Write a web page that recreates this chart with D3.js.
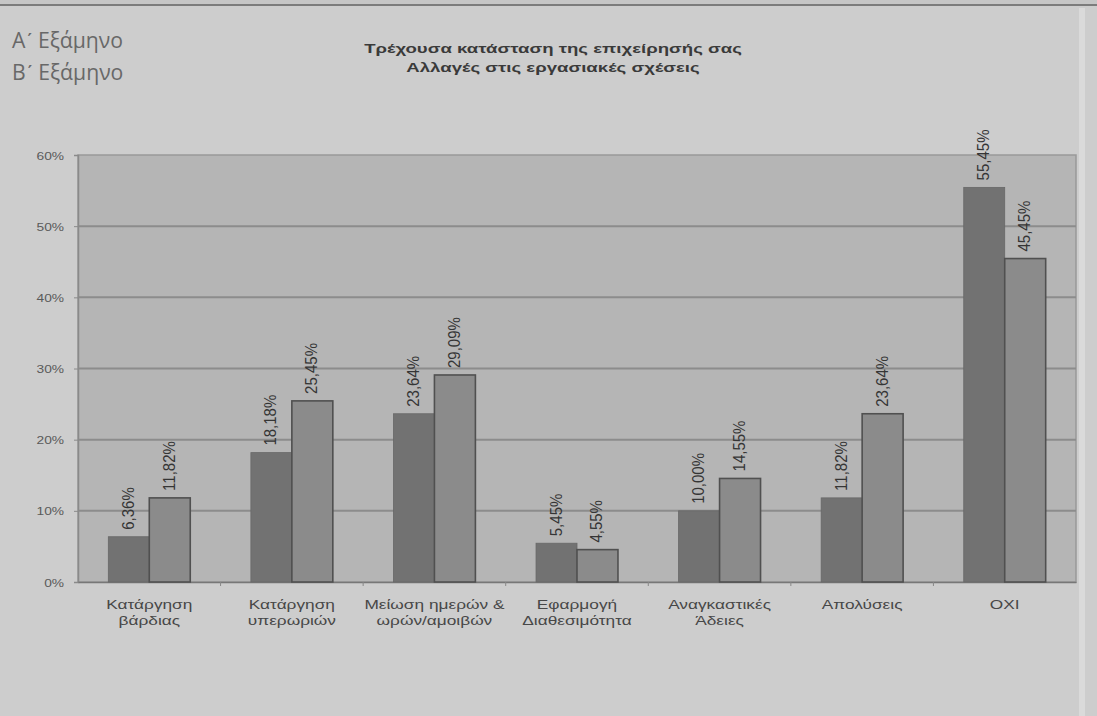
<!DOCTYPE html>
<html>
<head>
<meta charset="utf-8">
<script src="https://cdn.jsdelivr.net/npm/d3@7"></script>
<style>
  html, body { margin: 0; padding: 0; background: #cdcdcd; }
  svg { display: block; }
</style>
</head>
<body>
<svg id="chart" width="1097" height="716"></svg>
<script>
// Categories (two-line labels) and the two semester series, in percent
const categories = [
  ["Κατάργηση", "βάρδιας"],
  ["Κατάργηση", "υπερωριών"],
  ["Μείωση ημερών &", "ωρών/αμοιβών"],
  ["Εφαρμογή", "Διαθεσιμότητα"],
  ["Αναγκαστικές", "Άδειες"],
  ["Απολύσεις"],
  ["ΟΧΙ"]
];
const seriesNames = ["Α\u0374 Εξάμηνο", "Β\u0374 Εξάμηνο"];
const semesterA = [6.36, 18.18, 23.64, 5.45, 10.00, 11.82, 55.45];
const semesterB = [11.82, 25.45, 29.09, 4.55, 14.55, 23.64, 45.45];
const yTicks = [0, 10, 20, 30, 40, 50, 60];
const titleLines = ["Τρέχουσα κατάσταση της επιχείρησής σας", "Αλλαγές στις εργασιακές σχέσεις"];

const svg = d3.select("#chart");
const W = 1097, H = 716;
const plot = { left: 78, right: 1076, top: 155, bottom: 582 };
const SX = 1.25; // horizontal stretch applied to the chart lettering

const gr = d3.formatLocale({ decimal: ",", thousands: ".", grouping: [3], currency: ["", "€"] });
const fmt2 = gr.format(".2f");

const catIdx = d3.range(categories.length);
const x0 = d3.scaleBand().domain(catIdx).range([plot.left, plot.right]).padding(0);
const x1 = d3.scaleBand().domain([0, 1]).range([0, x0.bandwidth()]).paddingInner(0).paddingOuter(0.74);
const y = d3.scaleLinear().domain([0, 60]).range([plot.bottom, plot.top]);

// page frame
svg.append("rect").attr("width", W).attr("height", H).attr("fill", "#cdcdcd");
svg.append("rect").attr("x", 0).attr("y", 0).attr("width", W).attr("height", 4).attr("fill", "#c6c6c6");
svg.append("line").attr("x1", 0).attr("x2", W).attr("y1", 5).attr("y2", 5)
  .attr("stroke", "#7c7c7c").attr("stroke-width", 2);
svg.append("rect").attr("x", 1079).attr("y", 8).attr("width", 6).attr("height", H)
  .attr("fill", "#dadada");

// semester headings, top left
const legend = svg.append("g");
seriesNames.forEach((s, i) => {
  legend.append("text")
    .attr("transform", `translate(12,${48 + i * 32}) scale(1.01,1)`)
    .attr("font-family", "Open Sans, sans-serif")
    .attr("font-size", 21)
    .attr("fill", "#686868")
    .text(s);
});

// title
titleLines.forEach((t, i) => {
  svg.append("text")
    .attr("transform", `translate(553,${53 + i * 19}) scale(1.4,1)`)
    .attr("text-anchor", "middle")
    .attr("font-family", "Liberation Sans, Arial, sans-serif")
    .attr("font-weight", "bold")
    .attr("font-size", 13.3)
    .attr("fill", "#3a3a3a")
    .text(t);
});

// plot area
svg.append("rect")
  .attr("x", plot.left).attr("y", plot.top)
  .attr("width", plot.right - plot.left).attr("height", plot.bottom - plot.top)
  .attr("fill", "#b5b5b5").attr("stroke", "#999").attr("stroke-width", 1.5);

// gridlines
svg.append("g").selectAll("line").data(yTicks.filter(t => t > 0 && t < 60)).join("line")
  .attr("x1", plot.left).attr("x2", plot.right)
  .attr("y1", d => y(d)).attr("y2", d => y(d))
  .attr("stroke", "#8c8c8c").attr("stroke-width", 2);

// y axis
const yAxis = svg.append("g").attr("transform", `translate(${plot.left},0)`)
  .call(d3.axisLeft(y).tickValues(yTicks).tickSize(4).tickPadding(0).tickFormat(d => d + "%"));
yAxis.select(".domain").attr("stroke", "#8a8a8a").attr("stroke-width", 1.5);
yAxis.selectAll(".tick line").attr("stroke", "#8a8a8a");
yAxis.selectAll(".tick text").each(function () {
  const t = d3.select(this);
  t.attr("x", null).attr("dy", null)
    .attr("transform", `translate(-14,4) scale(${SX},1)`)
    .attr("font-family", "Liberation Sans, Arial, sans-serif")
    .attr("font-size", 11)
    .attr("fill", "#5a5a5a");
});

// x axis baseline with ticks at category boundaries
const xAxis = svg.append("g").attr("transform", `translate(0,${plot.bottom})`)
  .call(d3.axisBottom(x0).tickSize(0).tickFormat(""));
xAxis.select(".domain").attr("stroke", "#777").attr("stroke-width", 1.5);
svg.append("g").selectAll("line").data(d3.range(1, categories.length)).join("line")
  .attr("x1", d => x0(d)).attr("x2", d => x0(d))
  .attr("y1", plot.bottom).attr("y2", plot.bottom + 4)
  .attr("stroke", "#888");

// category labels
categories.forEach((lines, i) => {
  const cx = x0(i) + x0.bandwidth() / 2;
  lines.forEach((l, j) => {
    svg.append("text")
      .attr("transform", `translate(${cx},${609 + j * 16}) scale(1.33,1)`)
      .attr("text-anchor", "middle")
      .attr("font-family", "Liberation Sans, Arial, sans-serif")
      .attr("font-size", 13)
      .attr("fill", "#474747")
      .text(l);
  });
});

// bars
const rows = catIdx.map(i => [semesterA[i], semesterB[i]]);
const groups = svg.append("g").selectAll("g").data(rows).join("g")
  .attr("transform", (d, i) => `translate(${x0(i)},0)`);

groups.selectAll("rect").data(d => d.map((v, k) => ({ v, k }))).join("rect")
  .attr("x", d => x1(d.k))
  .attr("y", d => y(d.v))
  .attr("width", x1.bandwidth())
  .attr("height", d => y(0) - y(d.v))
  .attr("fill", d => d.k === 0 ? "#727272" : "#8b8b8b")
  .attr("stroke", d => d.k === 0 ? "#686868" : "#505050")
  .attr("stroke-width", d => d.k === 0 ? 0.8 : 1.6);

// value labels, rotated, above each bar
groups.selectAll("text").data(d => d.map((v, k) => ({ v, k }))).join("text")
  .attr("transform", d => `translate(${x1(d.k) + x1.bandwidth() / 2 + 5},${y(d.v) - 7}) scale(1.15,1) rotate(-90)`)
  .attr("font-family", "Liberation Sans, Arial, sans-serif")
  .attr("font-size", 15)
  .attr("fill", "#353535")
  .text(d => fmt2(d.v) + "%");
</script>
</body>
</html>
